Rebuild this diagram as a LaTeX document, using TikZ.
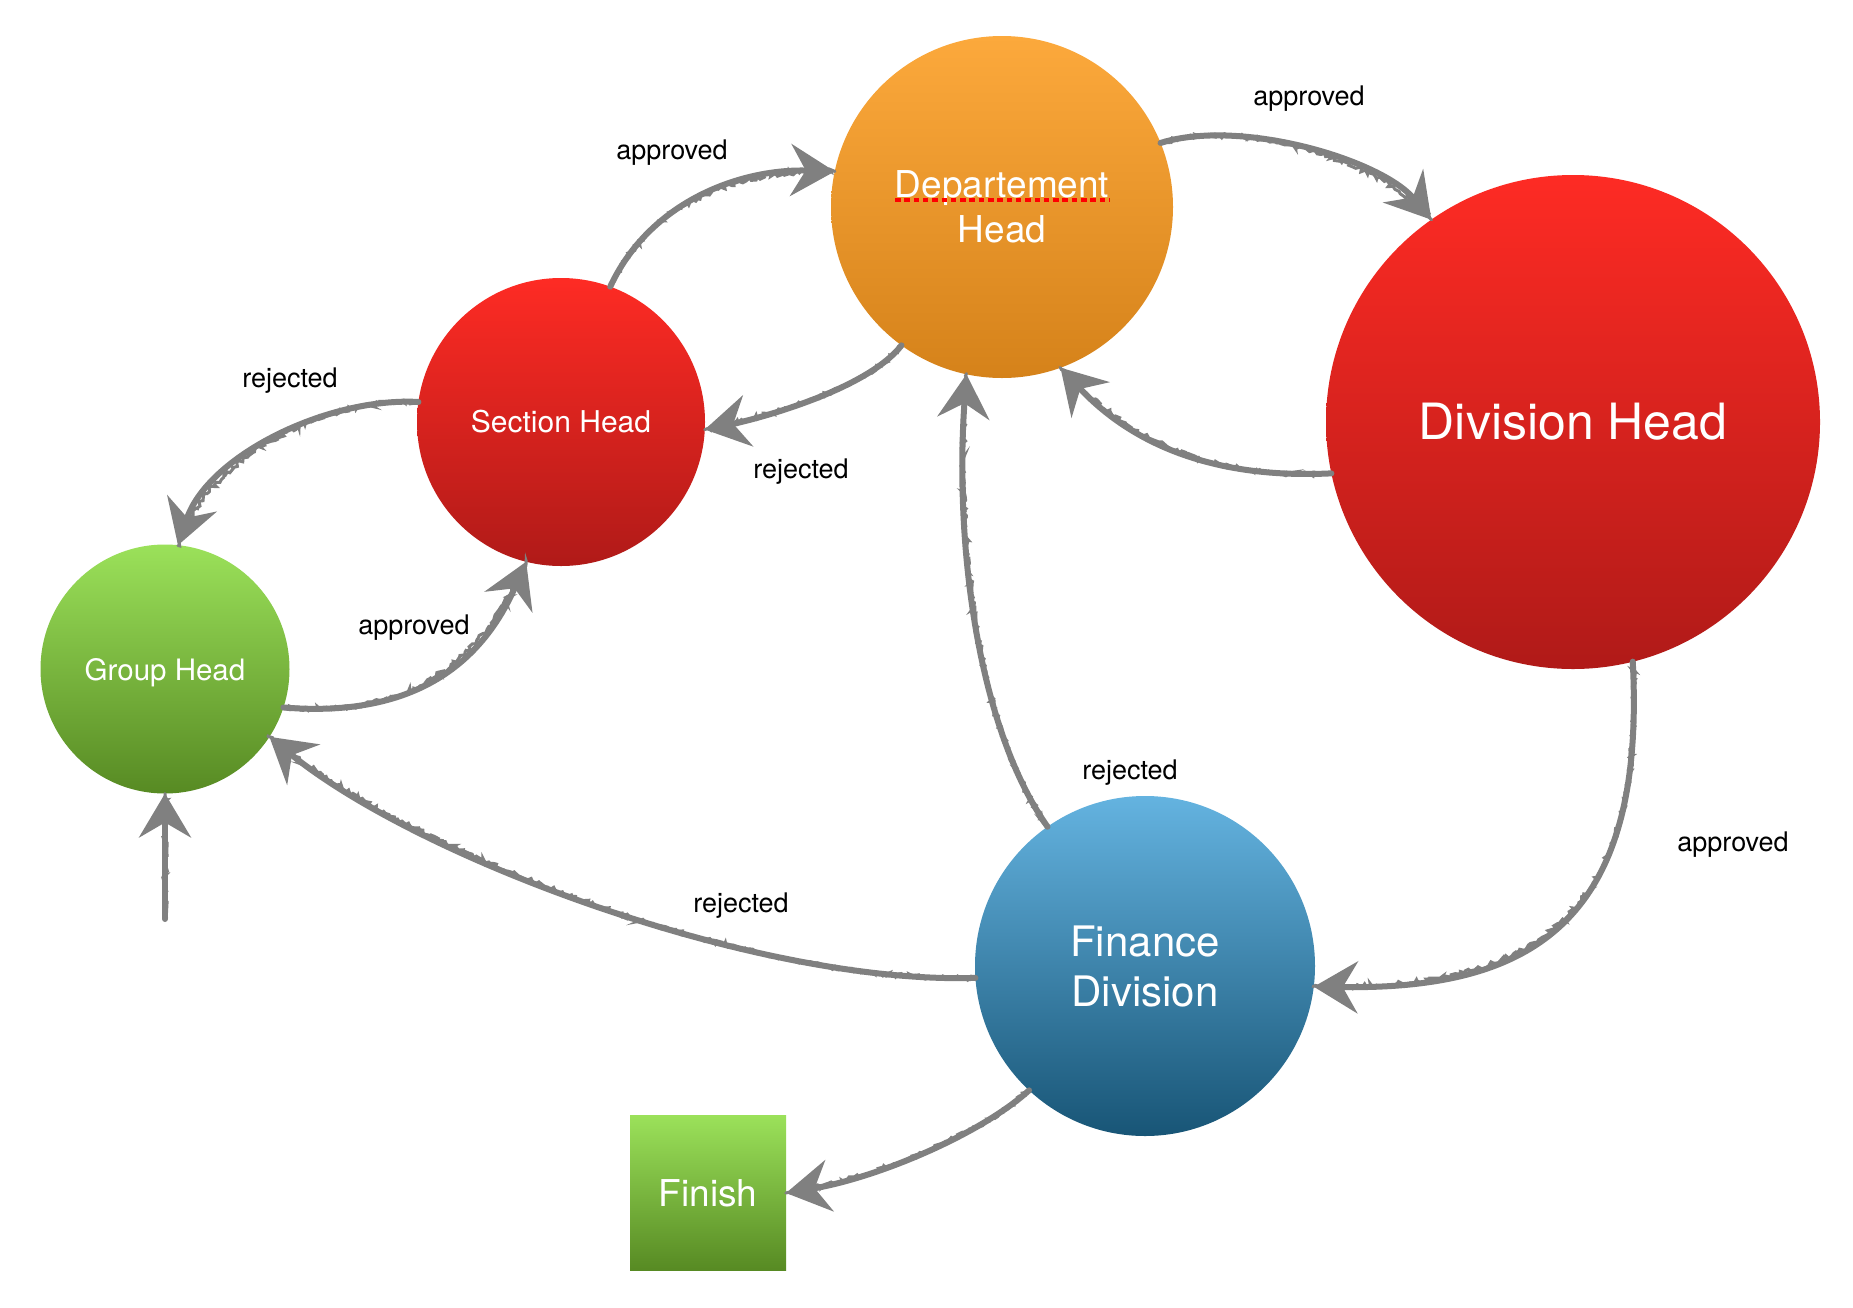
\documentclass[tikz,border=0pt]{standalone}
\usepackage{fontspec}
\setmainfont{TeX Gyre Heros}
\usetikzlibrary{arrows.meta,calc,decorations.pathmorphing}
\definecolor{deptTop}{HTML}{FCA93C}
\definecolor{deptBot}{HTML}{D5821A}
\definecolor{redTop}{HTML}{FE2B24}
\definecolor{redBot}{HTML}{B01A18}
\definecolor{grnTop}{HTML}{9BE15A}
\definecolor{grnBot}{HTML}{578A23}
\definecolor{bluTop}{HTML}{64B3E0}
\definecolor{bluBot}{HTML}{185576}
\definecolor{arrowgray}{HTML}{808080}
\begin{document}
\begin{tikzpicture}[x=1pt,y=-1pt,
  state/.style={circle, inner sep=0pt, outer sep=0pt, text=white, align=center, draw=none},
  conn/.style={draw=arrowgray, line width=6pt, line cap=round,
    -{Stealth[length=44pt,width=52pt,inset=15pt,fill=arrowgray]},
    postaction={draw=arrowgray, line width=3pt, arrows=-, decorate,
      decoration={random steps, segment length=2.5pt, amplitude=2.2pt}}},
  lbl/.style={text=black, font=\fontsize{27}{32}\selectfont, inner sep=0pt},
  spell/.style={draw=red, line width=4pt, dash pattern=on 5.5pt off 3.8pt}
]
\pgfmathsetseed{4242}
\fill[white] (0,0) rectangle (1853,1307);
\useasboundingbox (0,0) rectangle (1853,1307);

\node[state, minimum size=342pt, top color=deptTop, bottom color=deptBot,
  font=\fontsize{37}{45}\selectfont] (dept) at (1002,207) {Departement\\Head};
\node[state, minimum size=494pt, top color=redTop, bottom color=redBot,
  font=\fontsize{50}{58}\selectfont] (div) at (1573,422) {Division Head};
\node[state, minimum size=288pt, top color=redTop, bottom color=redBot,
  font=\fontsize{30}{36}\selectfont] (sec) at (561,422) {Section Head};
\node[state, minimum size=249pt, top color=grnTop, bottom color=grnBot, text depth=0pt,
  font=\fontsize{29.5}{35}\selectfont] (grp) at (165,669) {Group Head};
\node[state, minimum size=340pt, top color=bluTop, bottom color=bluBot,
  font=\fontsize{42}{50}\selectfont] (fin) at (1145,966) {Finance\\Division};
\node[rectangle, inner sep=0pt, outer sep=0pt, text=white, minimum width=156pt,
  minimum height=155pt, top color=grnTop, bottom color=grnBot,
  font=\fontsize{37}{44}\selectfont] (finish) at (708,1193) {Finish};

\draw[spell] ($(dept.center)+(-107,-7)$) -- ($(dept.center)+(108,-7)$);

\coordinate (start) at (165,919);

\draw[conn] (sec.70) .. controls +(40,-86) and +(-93,-3) .. (dept.168);
\draw[conn] (dept.22) .. controls +(80,-25) and +(-50,-60) .. (div.125);
\draw[conn] (div.192) .. controls +(-120,6) and +(70,75) .. (dept.290);
\draw[conn] (dept.234) .. controls +(-35,45) and +(50,-10) .. (sec.-3);
\draw[conn] (sec.172) .. controls +(-90,-5) and +(30,-90) .. (grp.84);
\draw[conn] (grp.-18) .. controls +(97,8) and +(-56,128) .. (sec.256);
\draw[conn] (fin.125) .. controls +(-70,-100) and +(-12,170) .. (dept.258);
\draw[conn] (div.284) .. controls +(14,266) and +(212,3) .. (fin.-7);
\draw[conn] (fin.227) .. controls +(-50,45) and +(90,-15) .. (finish.east);
\draw[conn] (fin.184) .. controls +(-215,7) and +(151,123) .. (grp.-33);
\draw[conn] (start) -- (grp.south);

\node[lbl] (l1) at (672,153) {approved};
\node[lbl] (l2) at (1309,99) {approved};
\node[lbl] (l3) at (290,381) {rejected};
\node[lbl] (l4) at (801,472) {rejected};
\node[lbl] (l5) at (414,628) {approved};
\node[lbl] (l6) at (1130,773) {rejected};
\node[lbl] (l7) at (1733,845) {approved};
\node[lbl] (l8) at (741,906) {rejected};
\end{tikzpicture}
\end{document}
